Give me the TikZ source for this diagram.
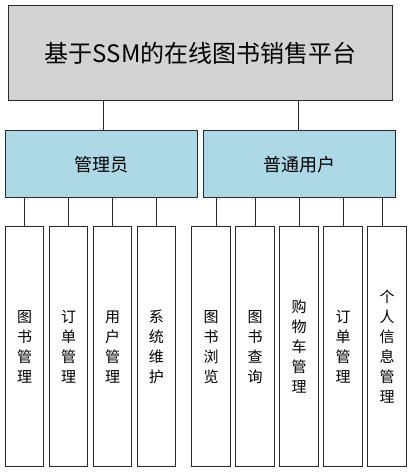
\documentclass[tikz,border=0pt]{standalone}
\usepackage{fontspec}
\newfontfamily\cjk{Noto Sans CJK SC}
\definecolor{topgray}{HTML}{D3D3D3}
\definecolor{roleblue}{HTML}{ADD8E6}
\definecolor{edgec}{HTML}{2A2A2A}
\begin{document}
\begin{tikzpicture}[x=1pt,y=-1pt,
  box/.style={draw=edgec,line width=1pt,inner sep=0pt,align=center},
  topbox/.style={box,fill=topgray,minimum width=383.8pt,minimum height=95.7pt,font=\cjk\fontsize{24}{28}\selectfont},
  rolebox/.style={box,fill=roleblue,minimum width=192pt,minimum height=67pt,font=\cjk\fontsize{18}{22}\selectfont},
  leafbox/.style={box,fill=white,minimum width=38.7pt,minimum height=240.3pt,font=\cjk\fontsize{15}{20}\selectfont},
  link/.style={draw=edgec,line width=1pt}]
\useasboundingbox (0,0) rectangle (412,473);
\node[topbox] (top) at (200.6,52.9) {基于SSM的在线图书销售平台};
\node[rolebox] (adm) at (101.7,164.2) {管理员};
\node[rolebox,minimum width=191.7pt] (usr) at (299.2,164.2) {普通用户};
\node[leafbox] (l1) at (24.5,346.8) {图\\书\\管\\理};
\node[leafbox] (l2) at (68.5,346.8) {订\\单\\管\\理};
\node[leafbox] (l3) at (112.5,346.8) {用\\户\\管\\理};
\node[leafbox] (l4) at (156.4,346.8) {系\\统\\维\\护};
\node[leafbox] (l5) at (211,346.8) {图\\书\\浏\\览};
\node[leafbox] (l6) at (255,346.8) {图\\书\\查\\询};
\node[leafbox] (l7) at (299,346.8) {购\\物\\车\\管\\理};
\node[leafbox] (l8) at (343,346.8) {订\\单\\管\\理};
\node[leafbox] (l9) at (387,346.8) {个\\人\\信\\息\\管\\理};
\draw[link] ([xshift=1.3pt]adm.north) -- ([xshift=1.3pt]adm.north |- top.south);
\draw[link] ([xshift=-1.2pt]usr.north) -- ([xshift=-1.2pt]usr.north |- top.south);
\foreach \n in {l1,l2,l3,l4} {
  \draw[link] (\n.north) -- (\n.north |- adm.south);
}
\foreach \n in {l6,l7,l8} {
  \draw[link] (\n.north) -- (\n.north |- usr.south);
}
\draw[link] ([xshift=5.7pt]l5.north) -- ([xshift=5.7pt]l5.north |- usr.south);
\draw[link] ([xshift=-5pt]l9.north) -- ([xshift=-5pt]l9.north |- usr.south);
\end{tikzpicture}
\end{document}
